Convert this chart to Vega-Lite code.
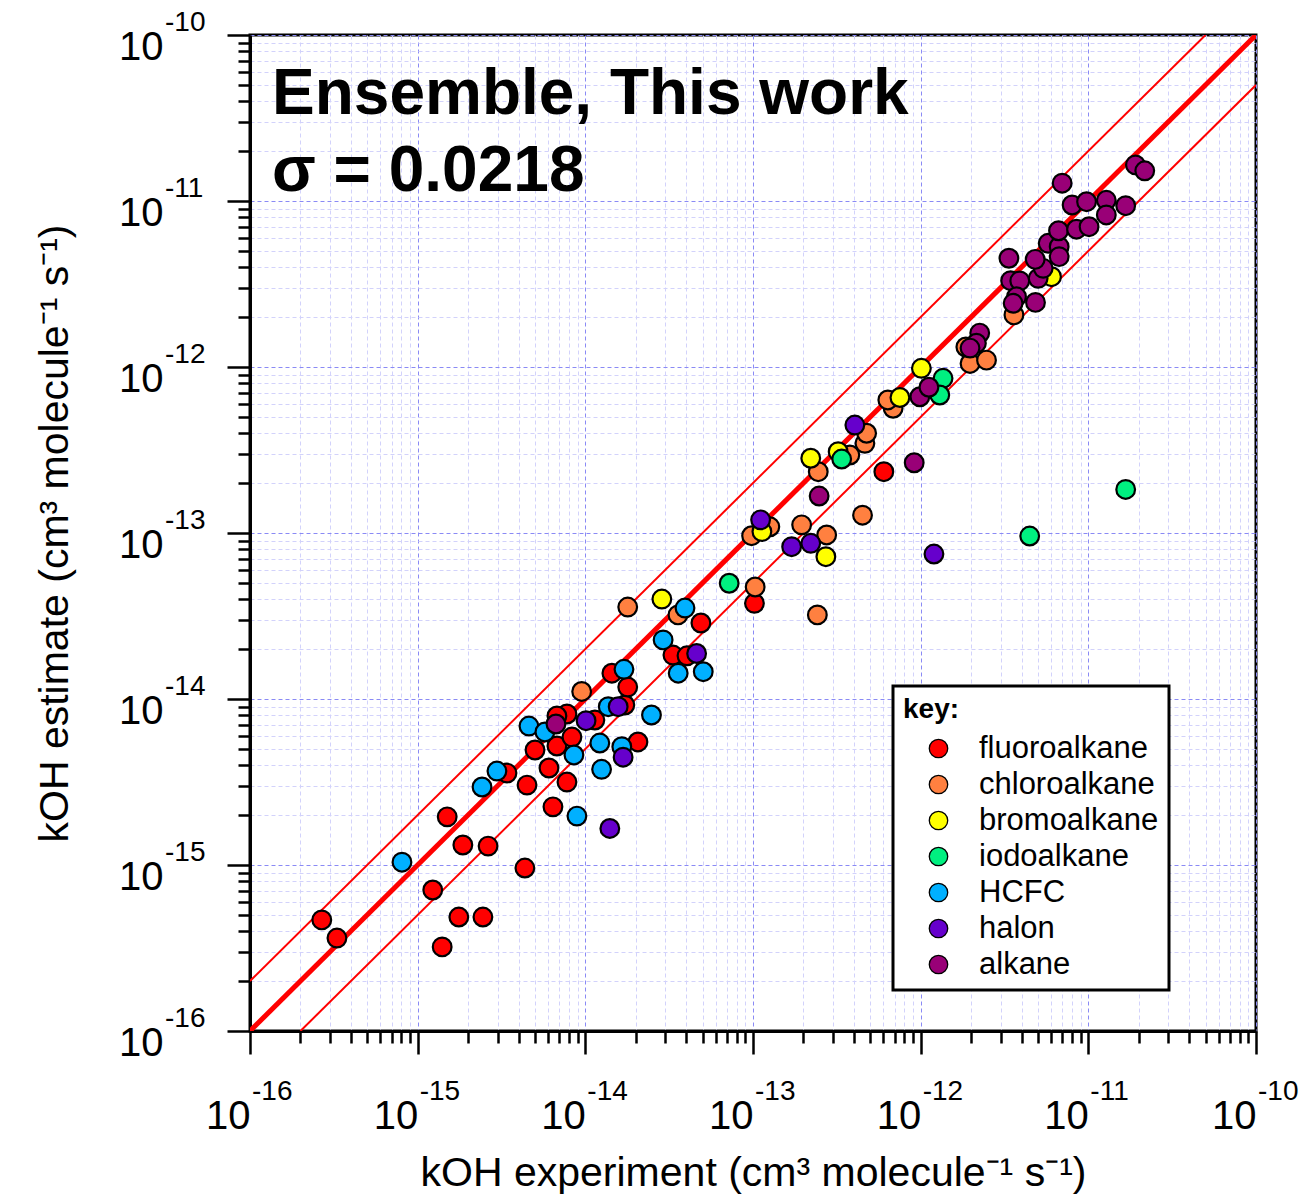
{
  "$schema": "https://vega.github.io/schema/vega-lite/v6.json",
  "autosize": "none",
  "width": 1006,
  "height": 996,
  "padding": {"left": 250, "top": 35, "right": 53, "bottom": 170},
  "background": "white",
  "title": {
    "text": "Ensemble, This work",
    "subtitle": "σ = 0.0218",
    "anchor": "start",
    "orient": "top",
    "frame": "group",
    "offset": 0,
    "dx": 22,
    "dy": 195,
    "font": "Liberation Sans",
    "fontSize": 64,
    "fontWeight": "bold",
    "color": "black",
    "subtitleFont": "Liberation Sans",
    "subtitleFontSize": 64,
    "subtitleFontWeight": "bold",
    "subtitleColor": "black",
    "subtitlePadding": 13
  },
  "config": {
    "view": {"stroke": "black", "strokeWidth": 3},
    "axis": {
      "domainColor": "black",
      "domainWidth": 3,
      "tickColor": "black",
      "tickWidth": 2.5,
      "tickSize": {"condition": {"test": "abs(log(datum.value)/LN10 - round(log(datum.value)/LN10)) < 0.001", "value": 23}, "value": 12},
      "grid": true,
      "gridColor": {"condition": {"test": "abs(log(datum.value)/LN10 - round(log(datum.value)/LN10)) < 0.001", "value": "#8a8af5"}, "value": "#d2d2fb"},
      "gridDash": [4, 3],
      "gridWidth": 1,
      "labelFont": "Liberation Sans",
      "labelFontSize": 40,
      "labelColor": "black",
      "labelOverlap": false,
      "labelFlush": false,
      "labelBound": false,
      "titleFont": "Liberation Sans",
      "titleFontSize": 41,
      "titleFontWeight": "normal",
      "titleColor": "black"
    },
    "legend": {
      "orient": "none",
      "legendX": 643,
      "legendY": 651,
      "fillColor": "white",
      "strokeColor": "black",
      "strokeWidth": 3,
      "padding": 10,
      "titleFont": "Liberation Sans",
      "titleFontSize": 28,
      "titleFontWeight": "bold",
      "titleColor": "black",
      "titlePadding": 9,
      "labelFont": "Liberation Sans",
      "labelFontSize": 31,
      "labelColor": "black",
      "labelLimit": 400,
      "labelOffset": 25,
      "symbolOffset": 20,
      "symbolType": "circle",
      "symbolSize": 340,
      "symbolStrokeColor": "black",
      "symbolStrokeWidth": 1.3,
      "rowPadding": 4
    }
  },
  "datasets": {
    "points": [
      {"type": "fluoroalkane", "kexp": 2.68e-16, "kest": 4.67e-16},
      {"type": "fluoroalkane", "kexp": 3.30e-16, "kest": 3.63e-16},
      {"type": "fluoroalkane", "kexp": 1.40e-15, "kest": 3.21e-16},
      {"type": "fluoroalkane", "kexp": 1.23e-15, "kest": 7.07e-16},
      {"type": "fluoroalkane", "kexp": 1.76e-15, "kest": 4.86e-16},
      {"type": "fluoroalkane", "kexp": 2.45e-15, "kest": 4.86e-16},
      {"type": "fluoroalkane", "kexp": 1.50e-15, "kest": 1.95e-15},
      {"type": "fluoroalkane", "kexp": 1.86e-15, "kest": 1.32e-15},
      {"type": "fluoroalkane", "kexp": 2.63e-15, "kest": 1.30e-15},
      {"type": "fluoroalkane", "kexp": 4.36e-15, "kest": 9.59e-16},
      {"type": "fluoroalkane", "kexp": 4.49e-15, "kest": 3.03e-15},
      {"type": "fluoroalkane", "kexp": 3.41e-15, "kest": 3.58e-15},
      {"type": "fluoroalkane", "kexp": 5.01e-15, "kest": 4.93e-15},
      {"type": "fluoroalkane", "kexp": 6.07e-15, "kest": 3.84e-15},
      {"type": "fluoroalkane", "kexp": 6.41e-15, "kest": 2.24e-15},
      {"type": "fluoroalkane", "kexp": 6.77e-15, "kest": 5.21e-15},
      {"type": "fluoroalkane", "kexp": 7.77e-15, "kest": 3.16e-15},
      {"type": "fluoroalkane", "kexp": 8.32e-15, "kest": 5.90e-15},
      {"type": "fluoroalkane", "kexp": 7.77e-15, "kest": 8.12e-15},
      {"type": "fluoroalkane", "kexp": 6.77e-15, "kest": 7.90e-15},
      {"type": "fluoroalkane", "kexp": 1.14e-14, "kest": 7.47e-15},
      {"type": "fluoroalkane", "kexp": 1.72e-14, "kest": 9.20e-15},
      {"type": "fluoroalkane", "kexp": 1.79e-14, "kest": 1.18e-14},
      {"type": "fluoroalkane", "kexp": 1.44e-14, "kest": 1.43e-14},
      {"type": "fluoroalkane", "kexp": 2.06e-14, "kest": 5.51e-15},
      {"type": "fluoroalkane", "kexp": 3.33e-14, "kest": 1.84e-14},
      {"type": "fluoroalkane", "kexp": 4.04e-14, "kest": 1.82e-14},
      {"type": "fluoroalkane", "kexp": 4.89e-14, "kest": 2.87e-14},
      {"type": "fluoroalkane", "kexp": 1.02e-13, "kest": 3.77e-14},
      {"type": "fluoroalkane", "kexp": 6.03e-13, "kest": 2.34e-13},
      {"type": "chloroalkane", "kexp": 9.51e-15, "kest": 1.11e-14},
      {"type": "chloroalkane", "kexp": 1.79e-14, "kest": 3.58e-14},
      {"type": "chloroalkane", "kexp": 3.57e-14, "kest": 3.21e-14},
      {"type": "chloroalkane", "kexp": 1.03e-13, "kest": 4.73e-14},
      {"type": "chloroalkane", "kexp": 9.81e-14, "kest": 9.63e-14},
      {"type": "chloroalkane", "kexp": 1.26e-13, "kest": 1.09e-13},
      {"type": "chloroalkane", "kexp": 1.95e-13, "kest": 1.12e-13},
      {"type": "chloroalkane", "kexp": 2.75e-13, "kest": 9.73e-14},
      {"type": "chloroalkane", "kexp": 2.42e-13, "kest": 3.21e-14},
      {"type": "chloroalkane", "kexp": 2.45e-13, "kest": 2.34e-13},
      {"type": "chloroalkane", "kexp": 3.78e-13, "kest": 2.95e-13},
      {"type": "chloroalkane", "kexp": 4.65e-13, "kest": 3.47e-13},
      {"type": "chloroalkane", "kexp": 4.76e-13, "kest": 3.99e-13},
      {"type": "chloroalkane", "kexp": 4.50e-13, "kest": 1.28e-13},
      {"type": "chloroalkane", "kexp": 6.85e-13, "kest": 5.64e-13},
      {"type": "chloroalkane", "kexp": 6.37e-13, "kest": 6.33e-13},
      {"type": "chloroalkane", "kexp": 1.97e-12, "kest": 1.05e-12},
      {"type": "chloroalkane", "kexp": 2.47e-12, "kest": 1.10e-12},
      {"type": "chloroalkane", "kexp": 1.86e-12, "kest": 1.32e-12},
      {"type": "chloroalkane", "kexp": 3.60e-12, "kest": 2.06e-12},
      {"type": "bromoalkane", "kexp": 2.86e-14, "kest": 4.00e-14},
      {"type": "bromoalkane", "kexp": 1.13e-13, "kest": 1.02e-13},
      {"type": "bromoalkane", "kexp": 2.72e-13, "kest": 7.20e-14},
      {"type": "bromoalkane", "kexp": 2.21e-13, "kest": 2.82e-13},
      {"type": "bromoalkane", "kexp": 3.22e-13, "kest": 3.09e-13},
      {"type": "bromoalkane", "kexp": 7.52e-13, "kest": 6.55e-13},
      {"type": "bromoalkane", "kexp": 1.01e-12, "kest": 9.82e-13},
      {"type": "bromoalkane", "kexp": 6.03e-12, "kest": 3.50e-12},
      {"type": "iodoalkane", "kexp": 7.21e-14, "kest": 4.98e-14},
      {"type": "iodoalkane", "kexp": 3.38e-13, "kest": 2.79e-13},
      {"type": "iodoalkane", "kexp": 1.36e-12, "kest": 8.55e-13},
      {"type": "iodoalkane", "kexp": 1.30e-12, "kest": 6.78e-13},
      {"type": "iodoalkane", "kexp": 4.47e-12, "kest": 9.59e-14},
      {"type": "iodoalkane", "kexp": 1.67e-11, "kest": 1.83e-13},
      {"type": "HCFC", "kexp": 8.06e-16, "kest": 1.04e-15},
      {"type": "HCFC", "kexp": 2.42e-15, "kest": 2.95e-15},
      {"type": "HCFC", "kexp": 2.97e-15, "kest": 3.68e-15},
      {"type": "HCFC", "kexp": 4.61e-15, "kest": 6.87e-15},
      {"type": "HCFC", "kexp": 5.74e-15, "kest": 6.33e-15},
      {"type": "HCFC", "kexp": 8.55e-15, "kest": 4.60e-15},
      {"type": "HCFC", "kexp": 8.91e-15, "kest": 1.97e-15},
      {"type": "HCFC", "kexp": 1.22e-14, "kest": 5.43e-15},
      {"type": "HCFC", "kexp": 1.25e-14, "kest": 3.77e-15},
      {"type": "HCFC", "kexp": 1.37e-14, "kest": 8.99e-15},
      {"type": "HCFC", "kexp": 1.65e-14, "kest": 5.16e-15},
      {"type": "HCFC", "kexp": 1.70e-14, "kest": 1.51e-14},
      {"type": "HCFC", "kexp": 2.48e-14, "kest": 8.01e-15},
      {"type": "HCFC", "kexp": 2.91e-14, "kest": 2.27e-14},
      {"type": "HCFC", "kexp": 3.58e-14, "kest": 1.43e-14},
      {"type": "HCFC", "kexp": 3.93e-14, "kest": 3.53e-14},
      {"type": "HCFC", "kexp": 5.05e-14, "kest": 1.46e-14},
      {"type": "halon", "kexp": 1.01e-14, "kest": 7.40e-15},
      {"type": "halon", "kexp": 1.57e-14, "kest": 8.99e-15},
      {"type": "halon", "kexp": 1.68e-14, "kest": 4.46e-15},
      {"type": "halon", "kexp": 1.40e-14, "kest": 1.66e-15},
      {"type": "halon", "kexp": 4.61e-14, "kest": 1.88e-14},
      {"type": "halon", "kexp": 1.11e-13, "kest": 1.20e-13},
      {"type": "halon", "kexp": 1.70e-13, "kest": 8.27e-14},
      {"type": "halon", "kexp": 2.21e-13, "kest": 8.67e-14},
      {"type": "halon", "kexp": 4.05e-13, "kest": 4.47e-13},
      {"type": "halon", "kexp": 1.20e-12, "kest": 7.47e-14},
      {"type": "alkane", "kexp": 6.68e-15, "kest": 7.07e-15},
      {"type": "alkane", "kexp": 2.48e-13, "kest": 1.67e-13},
      {"type": "alkane", "kexp": 9.15e-13, "kest": 2.65e-13},
      {"type": "alkane", "kexp": 9.89e-13, "kest": 6.62e-13},
      {"type": "alkane", "kexp": 1.12e-12, "kest": 7.55e-13},
      {"type": "alkane", "kexp": 2.25e-12, "kest": 1.60e-12},
      {"type": "alkane", "kexp": 2.15e-12, "kest": 1.39e-12},
      {"type": "alkane", "kexp": 1.97e-12, "kest": 1.30e-12},
      {"type": "alkane", "kexp": 3.36e-12, "kest": 4.52e-12},
      {"type": "alkane", "kexp": 3.44e-12, "kest": 3.31e-12},
      {"type": "alkane", "kexp": 3.90e-12, "kest": 3.30e-12},
      {"type": "alkane", "kexp": 3.73e-12, "kest": 2.65e-12},
      {"type": "alkane", "kexp": 3.56e-12, "kest": 2.42e-12},
      {"type": "alkane", "kexp": 4.84e-12, "kest": 2.45e-12},
      {"type": "alkane", "kexp": 5.02e-12, "kest": 3.42e-12},
      {"type": "alkane", "kexp": 5.38e-12, "kest": 3.93e-12},
      {"type": "alkane", "kexp": 4.82e-12, "kest": 4.45e-12},
      {"type": "alkane", "kexp": 5.76e-12, "kest": 5.56e-12},
      {"type": "alkane", "kexp": 6.70e-12, "kest": 5.31e-12},
      {"type": "alkane", "kexp": 6.70e-12, "kest": 4.62e-12},
      {"type": "alkane", "kexp": 6.64e-12, "kest": 6.62e-12},
      {"type": "alkane", "kexp": 8.50e-12, "kest": 6.76e-12},
      {"type": "alkane", "kexp": 1.01e-11, "kest": 7.00e-12},
      {"type": "alkane", "kexp": 8.00e-12, "kest": 9.46e-12},
      {"type": "alkane", "kexp": 9.76e-12, "kest": 9.90e-12},
      {"type": "alkane", "kexp": 1.28e-11, "kest": 1.01e-11},
      {"type": "alkane", "kexp": 1.28e-11, "kest": 8.24e-12},
      {"type": "alkane", "kexp": 1.67e-11, "kest": 9.37e-12},
      {"type": "alkane", "kexp": 6.98e-12, "kest": 1.28e-11},
      {"type": "alkane", "kexp": 1.91e-11, "kest": 1.65e-11},
      {"type": "alkane", "kexp": 2.17e-11, "kest": 1.52e-11}
    ],
    "unity": [
      {"kexp": 1e-16, "kest": 1e-16},
      {"kexp": 1e-10, "kest": 1e-10}
    ],
    "bounds": [
      {"band": "upper", "kexp": 1e-16, "kest": 2e-16},
      {"band": "upper", "kexp": 5e-11, "kest": 1e-10},
      {"band": "lower", "kexp": 2e-16, "kest": 1e-16},
      {"band": "lower", "kexp": 1e-10, "kest": 5e-11}
    ],
    "xexp": [
      {"kexp": 1e-16, "kest": 1e-16, "e": "-16"},
      {"kexp": 1e-15, "kest": 1e-16, "e": "-15"},
      {"kexp": 1e-14, "kest": 1e-16, "e": "-14"},
      {"kexp": 1e-13, "kest": 1e-16, "e": "-13"},
      {"kexp": 1e-12, "kest": 1e-16, "e": "-12"},
      {"kexp": 1e-11, "kest": 1e-16, "e": "-11"},
      {"kexp": 1e-10, "kest": 1e-16, "e": "-10"}
    ],
    "yexp": [
      {"kest": 1e-16, "kexp": 1e-16, "e": "-16"},
      {"kest": 1e-15, "kexp": 1e-16, "e": "-15"},
      {"kest": 1e-14, "kexp": 1e-16, "e": "-14"},
      {"kest": 1e-13, "kexp": 1e-16, "e": "-13"},
      {"kest": 1e-12, "kexp": 1e-16, "e": "-12"},
      {"kest": 1e-11, "kexp": 1e-16, "e": "-11"},
      {"kest": 1e-10, "kexp": 1e-16, "e": "-10"}
    ]
  },
  "encoding": {
    "x": {
      "field": "kexp",
      "type": "quantitative",
      "scale": {"type": "log", "domain": [1e-16, 1e-10], "nice": false},
      "axis": {
        "title": "kOH experiment (cm³ molecule⁻¹ s⁻¹)",
        "titlePadding": 17,
        "labelAngle": 0,
        "labelAlign": "right",
        "labelBaseline": "alphabetic",
        "labelPadding": 74,
        "values": [1e-16,2e-16,3e-16,4e-16,5e-16,6e-16,7e-16,8e-16,9e-16,1e-15,2e-15,3e-15,4e-15,5e-15,6e-15,7e-15,8e-15,9e-15,1e-14,2e-14,3e-14,4e-14,5e-14,6e-14,7e-14,8e-14,9e-14,1e-13,2e-13,3e-13,4e-13,5e-13,6e-13,7e-13,8e-13,9e-13,1e-12,2e-12,3e-12,4e-12,5e-12,6e-12,7e-12,8e-12,9e-12,1e-11,2e-11,3e-11,4e-11,5e-11,6e-11,7e-11,8e-11,9e-11,1e-10],
        "labelExpr": "(abs(log(datum.value)/LN10 - round(log(datum.value)/LN10)) < 0.001) ? '10' : ''"
      }
    },
    "y": {
      "field": "kest",
      "type": "quantitative",
      "scale": {"type": "log", "domain": [1e-16, 1e-10], "nice": false},
      "axis": {
        "title": "kOH estimate (cm³ molecule⁻¹ s⁻¹)",
        "titlePadding": 42,
        "labelAlign": "right",
        "labelBaseline": "alphabetic",
        "labelPadding": 64,
        "labelOffset": 24,
        "values": [1e-16,2e-16,3e-16,4e-16,5e-16,6e-16,7e-16,8e-16,9e-16,1e-15,2e-15,3e-15,4e-15,5e-15,6e-15,7e-15,8e-15,9e-15,1e-14,2e-14,3e-14,4e-14,5e-14,6e-14,7e-14,8e-14,9e-14,1e-13,2e-13,3e-13,4e-13,5e-13,6e-13,7e-13,8e-13,9e-13,1e-12,2e-12,3e-12,4e-12,5e-12,6e-12,7e-12,8e-12,9e-12,1e-11,2e-11,3e-11,4e-11,5e-11,6e-11,7e-11,8e-11,9e-11,1e-10],
        "labelExpr": "(abs(log(datum.value)/LN10 - round(log(datum.value)/LN10)) < 0.001) ? '10' : ''"
      }
    }
  },
  "layer": [
    {
      "data": {"name": "bounds"},
      "mark": {"type": "line", "color": "#ff0000", "strokeWidth": 2, "clip": true},
      "encoding": {"detail": {"field": "band", "type": "nominal"}}
    },
    {
      "data": {"name": "unity"},
      "mark": {"type": "line", "color": "#ff0000", "strokeWidth": 5, "clip": true},
      "encoding": {}
    },
    {
      "data": {"name": "points"},
      "mark": {"type": "point", "shape": "circle", "filled": true, "size": 350, "stroke": "black", "strokeWidth": 2.2, "opacity": 1},
      "encoding": {
        "color": {
          "field": "type",
          "type": "nominal",
          "scale": {
            "domain": ["fluoroalkane", "chloroalkane", "bromoalkane", "iodoalkane", "HCFC", "halon", "alkane"],
            "range": ["#ff0000", "#ff8040", "#ffff00", "#00f080", "#00b0ff", "#6600cc", "#990077"]
          },
          "legend": {"title": "key:"}
        }
      }
    },
    {
      "data": {"name": "xexp"},
      "mark": {"type": "text", "align": "left", "baseline": "alphabetic", "dx": 2, "dy": 69, "fontSize": 28, "fill": "black", "clip": false},
      "encoding": {
        "text": {"field": "e", "type": "nominal"}
      }
    },
    {
      "data": {"name": "yexp"},
      "mark": {"type": "text", "align": "left", "baseline": "alphabetic", "dx": -85, "dy": -4, "fontSize": 28, "fill": "black", "clip": false},
      "encoding": {
        "text": {"field": "e", "type": "nominal"}
      }
    }
  ]
}
